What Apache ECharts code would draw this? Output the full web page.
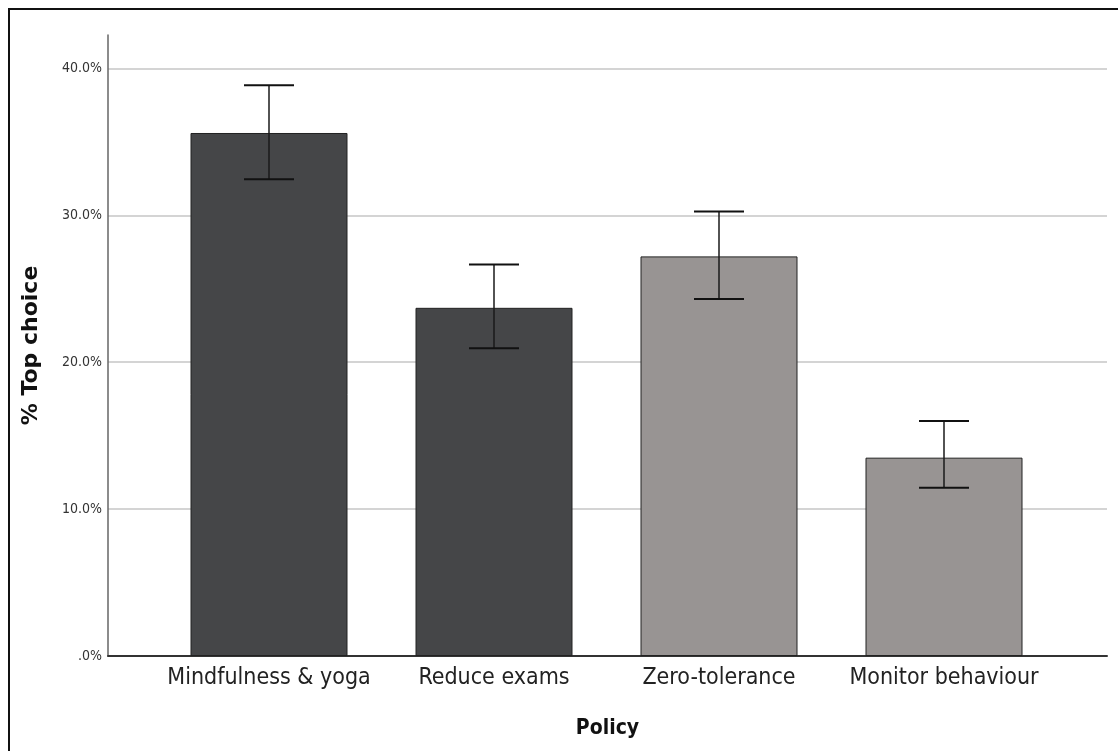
<!DOCTYPE html>
<html>
<head>
<meta charset="utf-8">
<title>% Top choice by Policy</title>
<script src="https://cdn.jsdelivr.net/npm/echarts@6/dist/echarts.min.js"></script>
<style>
  html, body { margin: 0; padding: 0; background: #ffffff; }
  #chart { width: 1118px; height: 751px; }
</style>
</head>
<body>
<div id="chart"></div>
<script>
// Policy options and share of respondents naming each as their top choice (%)
const categories = ['Mindfulness & yoga', 'Reduce exams', 'Zero-tolerance', 'Monitor behaviour'];
const topChoice = [35.6, 23.7, 27.2, 13.5];
// 95% confidence interval bounds (%)
const ciLower = [32.45, 20.95, 24.3, 11.45];
const ciUpper = [38.85, 26.65, 30.25, 16.0];
// Value-axis ticks
const yMax = 42.27;
const yTickStep = 10;

// Fills: first two policies are supportive, last two are disciplinary
const darkFill = '#454648';
const lightFill = '#989493';
const barFills = [darkFill, darkFill, lightFill, lightFill];

const labelFont = '"DejaVu Sans Condensed", "DejaVu Sans", sans-serif';

const chart = echarts.init(document.getElementById('chart'), null, { renderer: 'canvas' });

function pctLabel(v) {
  if (Math.abs(v / yTickStep - Math.round(v / yTickStep)) > 1e-6) return '';
  return v === 0 ? '.0%' : v.toFixed(1) + '%';
}

const barData = topChoice.map((v, i) => ({
  value: v,
  itemStyle: { color: barFills[i] }
}));

const errData = categories.map((c, i) => [i, ciLower[i], ciUpper[i]]);

const option = {
  backgroundColor: '#ffffff',
  animation: false,
  graphic: [{
    type: 'rect',
    shape: { x: 9, y: 9, width: 1300, height: 900 },
    style: { fill: 'none', stroke: '#111111', lineWidth: 2 },
    silent: true,
    z: 100
  }],
  grid: [
    { left: 108, right: 11, top: 35, bottom: 95, outerBoundsMode: 'none' },
    { left: 156.5, right: 61.5, top: 35, bottom: 95, outerBoundsMode: 'none' }
  ],
  xAxis: [
    {
      gridIndex: 0,
      type: 'category',
      data: [''],
      axisLine: { show: true, lineStyle: { color: '#333333', width: 2 } },
      axisTick: { show: false },
      axisLabel: { show: false },
      name: 'Policy',
      nameLocation: 'middle',
      nameGap: 62,
      nameTextStyle: { fontFamily: labelFont, fontWeight: 'bold', fontSize: 21, color: '#111111' }
    },
    {
      gridIndex: 1,
      type: 'category',
      data: categories,
      axisLine: { show: false },
      axisTick: { show: false },
      axisLabel: { interval: 0, hideOverlap: false, fontFamily: labelFont, fontSize: 23, color: '#222222', margin: 11 }
    }
  ],
  yAxis: [
    {
      gridIndex: 0,
      type: 'value',
      min: 0,
      max: yMax,
      interval: yTickStep,
      axisLine: { show: true, lineStyle: { color: '#666666', width: 1.5 } },
      axisTick: { show: false },
      axisLabel: {
        fontFamily: labelFont, fontSize: 14, color: '#333333', margin: 6,
        showMaxLabel: false, formatter: pctLabel
      },
      splitLine: { show: true, showMaxLine: false, lineStyle: { color: '#c6c6c6', width: 1.5 } },
      name: '% Top choice',
      nameLocation: 'middle',
      nameGap: 66,
      nameRotate: 90,
      nameTextStyle: { fontFamily: '"DejaVu Sans", sans-serif', fontWeight: 'bold', fontSize: 22, color: '#111111' }
    },
    {
      gridIndex: 1,
      type: 'value',
      min: 0,
      max: yMax,
      interval: yTickStep,
      show: false,
      splitLine: { show: false }
    }
  ],
  series: [
    {
      type: 'bar',
      xAxisIndex: 1,
      yAxisIndex: 1,
      barWidth: 157,
      data: barData,
      itemStyle: { borderColor: '#222222', borderWidth: 1 },
      z: 2
    },
    {
      type: 'custom',
      xAxisIndex: 1,
      yAxisIndex: 1,
      data: errData,
      z: 3,
      renderItem: function (params, api) {
        const idx = api.value(0);
        const lo = api.coord([idx, api.value(1)]);
        const hi = api.coord([idx, api.value(2)]);
        const half = 25;
        const stroke = { stroke: '#1a1a1a', lineWidth: 1.5 };
        const capStroke = { stroke: '#111111', lineWidth: 2 };
        return {
          type: 'group',
          children: [
            { type: 'line', shape: { x1: lo[0], y1: lo[1], x2: hi[0], y2: hi[1] }, style: stroke },
            { type: 'line', shape: { x1: hi[0] - half, y1: hi[1], x2: hi[0] + half, y2: hi[1] }, style: capStroke },
            { type: 'line', shape: { x1: lo[0] - half, y1: lo[1], x2: lo[0] + half, y2: lo[1] }, style: capStroke }
          ]
        };
      }
    }
  ]
};

chart.setOption(option);
</script>
</body>
</html>
